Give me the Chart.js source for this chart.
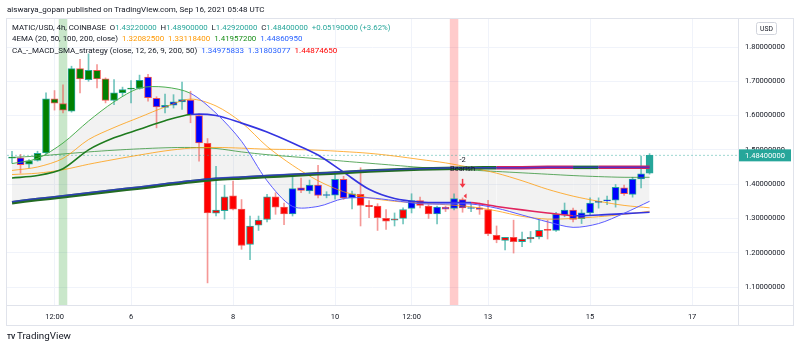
<!DOCTYPE html>
<html>
<head>
<meta charset="utf-8">
<script src="https://cdn.jsdelivr.net/npm/chart.js@4/dist/chart.umd.min.js"></script>
<style>
  html, body { margin: 0; padding: 0; background: #fff; }
  canvas { display: block; }
</style>
</head>
<body>
<canvas id="myChart" width="800" height="348"></canvas>
<script>
// 4h candles, index 0 = Sep 3 16:00 ... index 75 = Sep 16 04:00
var opens = [
  1.476, 1.477, 1.458, 1.469, 1.491, 1.649, 1.635, 1.613, 1.737, 1.705,
  1.732, 1.707, 1.644, 1.666, 1.677, 1.679, 1.712, 1.650, 1.624, 1.630,
  1.640, 1.645, 1.600, 1.519, 1.315, 1.323, 1.366, 1.327, 1.224, 1.280,
  1.297, 1.363, 1.333, 1.313, 1.389, 1.380, 1.397, 1.367, 1.368, 1.414,
  1.360, 1.370, 1.338, 1.336, 1.300, 1.295, 1.300, 1.329, 1.352, 1.336,
  1.313, 1.333, 1.329, 1.355, 1.329, 1.331, 1.326, 1.251, 1.236, 1.245,
  1.232, 1.240, 1.246, 1.266, 1.265, 1.310, 1.324, 1.299, 1.316, 1.347,
  1.351, 1.353, 1.389, 1.370, 1.415, 1.4322
];
var highs = [
  1.496, 1.487, 1.472, 1.496, 1.666, 1.673, 1.690, 1.744, 1.764, 1.780,
  1.749, 1.710, 1.705, 1.683, 1.702, 1.718, 1.720, 1.655, 1.663, 1.661,
  1.698, 1.671, 1.605, 1.533, 1.452, 1.397, 1.409, 1.355, 1.307, 1.307,
  1.370, 1.375, 1.345, 1.423, 1.418, 1.412, 1.455, 1.378, 1.436, 1.423,
  1.380, 1.448, 1.352, 1.343, 1.326, 1.316, 1.331, 1.372, 1.362, 1.340,
  1.336, 1.336, 1.372, 1.360, 1.345, 1.345, 1.353, 1.278, 1.245, 1.295,
  1.260, 1.262, 1.295, 1.295, 1.318, 1.345, 1.330, 1.325, 1.360, 1.360,
  1.365, 1.399, 1.397, 1.420, 1.482, 1.489
];
var lows = [
  1.461, 1.432, 1.447, 1.467, 1.487, 1.616, 1.608, 1.610, 1.666, 1.700,
  1.681, 1.637, 1.632, 1.657, 1.637, 1.677, 1.642, 1.564, 1.608, 1.622,
  1.618, 1.579, 1.467, 1.112, 1.307, 1.298, 1.325, 1.210, 1.180, 1.265,
  1.290, 1.312, 1.282, 1.307, 1.375, 1.373, 1.360, 1.360, 1.356, 1.355,
  1.328, 1.278, 1.302, 1.265, 1.268, 1.278, 1.284, 1.316, 1.331, 1.300,
  1.284, 1.320, 1.325, 1.318, 1.320, 1.312, 1.250, 1.229, 1.208, 1.199,
  1.218, 1.230, 1.240, 1.240, 1.262, 1.305, 1.290, 1.285, 1.310, 1.330,
  1.340, 1.333, 1.367, 1.362, 1.389, 1.4292
];
var closes = [
  1.478, 1.457, 1.468, 1.490, 1.649, 1.636, 1.616, 1.737, 1.707, 1.732,
  1.707, 1.644, 1.666, 1.676, 1.679, 1.703, 1.652, 1.625, 1.630, 1.640,
  1.647, 1.603, 1.520, 1.316, 1.324, 1.363, 1.327, 1.221, 1.278, 1.295,
  1.363, 1.333, 1.313, 1.387, 1.382, 1.397, 1.367, 1.369, 1.414, 1.360,
  1.372, 1.338, 1.334, 1.302, 1.292, 1.299, 1.326, 1.352, 1.338, 1.313,
  1.333, 1.327, 1.358, 1.331, 1.331, 1.326, 1.255, 1.237, 1.245, 1.232,
  1.240, 1.245, 1.265, 1.265, 1.312, 1.324, 1.297, 1.316, 1.345, 1.349,
  1.353, 1.391, 1.372, 1.415, 1.430, 1.484
];
// bar colour painted by the strategy (g green, b blue, r red, t default)
var barColors = [
  'g','b','g','g','g','g','g','g','g','g',
  'g','g','g','g','g','g','b','b','b','b',
  'b','b','b','r','r','r','r','r','r','r',
  'r','r','r','b','b','b','b','b','b','b',
  'b','r','r','r','r','r','r','b','r','r',
  'b','b','b','b','b','b','r','r','r','r',
  'r','r','r','r','b','b','b','b','b','b',
  'b','b','b','b','b','t'
];

// indicator lines, read every 3rd bar
var lineIdx = [0, 3, 6, 9, 12, 15, 18, 21, 24, 27, 30, 33, 36, 39, 42, 45, 48, 51, 54, 57, 60, 63, 66, 69, 72, 75];
var ema20  = [1.440, 1.450, 1.475, 1.530, 1.565, 1.595, 1.625, 1.648, 1.628, 1.580, 1.510, 1.455, 1.410, 1.378, 1.360, 1.350, 1.345, 1.340, 1.334, 1.322, 1.306, 1.298, 1.300, 1.305, 1.312, 1.321];
var ema50  = [1.428, 1.432, 1.442, 1.458, 1.472, 1.485, 1.497, 1.505, 1.507, 1.505, 1.502, 1.501, 1.499, 1.495, 1.490, 1.482, 1.472, 1.462, 1.448, 1.432, 1.410, 1.385, 1.365, 1.350, 1.338, 1.331];
var ema100 = [1.478, 1.482, 1.488, 1.494, 1.499, 1.503, 1.506, 1.507, 1.504, 1.494, 1.486, 1.480, 1.474, 1.467, 1.461, 1.455, 1.449, 1.445, 1.441, 1.437, 1.433, 1.429, 1.425, 1.422, 1.420, 1.420];
var ema200 = [1.349, 1.358, 1.366, 1.375, 1.384, 1.392, 1.401, 1.410, 1.417, 1.421, 1.425, 1.429, 1.432, 1.436, 1.440, 1.443, 1.445, 1.447, 1.448, 1.448, 1.448, 1.449, 1.449, 1.449, 1.449, 1.449];
var sma200 = [1.346, 1.355, 1.363, 1.372, 1.381, 1.389, 1.398, 1.407, 1.414, 1.418, 1.422, 1.426, 1.430, 1.434, 1.438, 1.441, 1.444, 1.446, 1.447, 1.448, 1.448, 1.449, 1.449, 1.449, 1.449, 1.449];
var fastMA = [1.460, 1.475, 1.520, 1.584, 1.640, 1.680, 1.683, 1.665, 1.607, 1.525, 1.410, 1.335, 1.335, 1.358, 1.360, 1.352, 1.343, 1.342, 1.342, 1.330, 1.310, 1.290, 1.274, 1.285, 1.315, 1.350];
var slowMA = [1.418, 1.425, 1.445, 1.500, 1.535, 1.560, 1.585, 1.603, 1.600, 1.578, 1.552, 1.520, 1.485, 1.435, 1.385, 1.358, 1.348, 1.346, 1.346, 1.335, 1.325, 1.316, 1.308, 1.310, 1.314, 1.318];
var sma200State = ['g','g','g','g','g','g','g','g','g','g','g','g','g','g','g','g','g','g','g','r','r','r','g','r','r','r'];
var fastState   = ['g','g','g','g','g','g','g','b','b','b','b','b','b','b','b','b','b','b','b','b','b','b','b','b','b','b'];
var slowState   = ['g','g','g','g','g','g','g','b','b','b','b','b','b','b','b','b','b','b','r','r','r','r','b','b','b','b'];

// axis ticks
var xTickIdx = [5, 14, 26, 38, 47, 56, 68, 80];
var xTickLabels = ['12:00', '6', '8', '10', '12:00', '13', '15', '17'];
var yTicks = [1.1, 1.2, 1.3, 1.4, 1.5, 1.6, 1.7, 1.8];

// background highlights and signal
var greenBars = [6];
var redBars = [52];
var signalBar = 53;
var signalText = ['-2', 'Bearish'];

// legend texts
var header = 'aiswarya_gopan published on TradingView.com, Sep 16, 2021 05:48 UTC';
var symbolText = 'MATIC/USD, 4h, COINBASE';
var changeText = '+0.05190000 (+3.62%)';
var emaTitle = '4EMA (20, 50, 100, 200, close)';
var emaValues = ['1.32082500', '1.33118400', '1.41957200', '1.44860950'];
var stratTitle = 'CA_-_MACD_SMA_strategy (close, 12, 26, 9, 200, 50)';
var stratValues = ['1.34975833', '1.31803077', '1.44874650'];

var FONT = 'Roboto, "Liberation Sans", sans-serif';
var DARK = '#131722';
var UP = '#26a69a', DOWN = '#ef5350';
var bodyFill = {g: '#008000', b: '#0000ff', r: '#ff0000', t: '#26a69a'};

var measure = document.createElement('canvas').getContext('2d');
function fitSize(text, width) {
  measure.font = '100px ' + FONT;
  return 100 * width / measure.measureText(text).width;
}
var tickSize = fitSize('1.80000000', 40);

function isUp(i) { return closes[i] >= opens[i]; }
function pts(vals) { return vals.map(function (v, k) { return {x: lineIdx[k], y: v}; }); }
function segColor(states, cols) {
  return function (c) { return cols[states[c.p0DataIndex]]; };
}
var lastClose = closes[closes.length - 1];

var tvDecor = {
  id: 'tvDecor',
  beforeDatasetsDraw: function (chart) {
    var c = chart.ctx, a = chart.chartArea, x = chart.scales.x;
    c.save();
    function band(i, col) {
      var l = x.getPixelForValue(i - 0.5), r = x.getPixelForValue(i + 0.5);
      c.fillStyle = col;
      c.fillRect(l, a.top, r - l, a.bottom - a.top);
    }
    greenBars.forEach(function (i) { band(i, 'rgba(76,175,80,0.30)'); });
    redBars.forEach(function (i) { band(i, 'rgba(255,82,82,0.30)'); });
    c.restore();
  },
  afterDraw: function (chart) {
    var c = chart.ctx, a = chart.chartArea, x = chart.scales.x, y = chart.scales.y;
    c.save();
    // pane frame
    c.strokeStyle = '#e0e3eb';
    c.lineWidth = 1;
    c.strokeRect(6.5, 18.5, 787, 307);
    c.beginPath();
    c.moveTo(a.right + 0.5, 18.5); c.lineTo(a.right + 0.5, 325.5);
    c.moveTo(6.5, a.bottom + 0.5); c.lineTo(793.5, a.bottom + 0.5);
    c.stroke();

    c.textBaseline = 'middle';
    // header
    c.font = fitSize(header, 258) + 'px ' + FONT;
    c.fillStyle = DARK;
    c.fillText(header, 7, 10);

    // legend rows
    function row(pieces, ypos, width) {
      var all = pieces.map(function (p) { return p[0]; }).join('');
      var size = fitSize(all, width);
      c.font = size + 'px ' + FONT;
      var px = 12;
      pieces.forEach(function (p) {
        c.fillStyle = p[1];
        c.fillText(p[0], px, ypos);
        px += c.measureText(p[0]).width;
      });
    }
    var f8 = function (v) { return v.toFixed(8); };
    var n = closes.length - 1;
    row([[symbolText + '  O', DARK], [f8(opens[n]), UP], ['  H', DARK], [f8(highs[n]), UP],
         ['  L', DARK], [f8(lows[n]), UP], ['  C', DARK], [f8(closes[n]), UP], ['  ' + changeText, UP]], 28, 379);
    var emaCols = ['#ff9800', '#ff9800', '#1b8f1b', '#2962ff'];
    var r2 = [[emaTitle, DARK]];
    emaValues.forEach(function (v, k) { r2.push(['  ', DARK]); r2.push([v, emaCols[k]]); });
    row(r2, 39.5, 291);
    var stCols = ['#2962ff', '#2962ff', '#ff0000'];
    var r3 = [[stratTitle, DARK]];
    stratValues.forEach(function (v, k) { r3.push(['  ', DARK]); r3.push([v, stCols[k]]); });
    row(r3, 51, 326);

    // signal marker
    var sx = x.getPixelForValue(signalBar);
    var hy = y.getPixelForValue(highs[signalBar]);
    c.font = fitSize('Bearish', 25) + 'px ' + FONT;
    c.fillStyle = DARK;
    c.textAlign = 'center';
    c.fillText(signalText[0], sx, hy - 38);
    c.fillText(signalText[1], sx, hy - 29);
    c.strokeStyle = '#f23645';
    c.fillStyle = '#f23645';
    c.lineWidth = 1.5;
    c.beginPath(); c.moveTo(sx, hy - 19); c.lineTo(sx, hy - 12); c.stroke();
    c.beginPath(); c.moveTo(sx - 3, hy - 14); c.lineTo(sx + 3, hy - 14); c.lineTo(sx, hy - 10); c.closePath(); c.fill();
    var by = y.getPixelForValue(opens[signalBar]);
    c.beginPath(); c.moveTo(sx + 4, by - 6); c.lineTo(sx + 4, by - 1); c.lineTo(sx + 1, by - 3.5); c.closePath(); c.fill();
    c.textAlign = 'left';

    // USD box
    c.strokeStyle = '#d1d4dc';
    c.lineWidth = 1;
    c.beginPath();
    if (c.roundRect) c.roundRect(756.5, 22.5, 20, 12, 2); else c.rect(756.5, 22.5, 20, 12);
    c.stroke();
    c.font = fitSize('USD', 13) + 'px ' + FONT;
    c.fillStyle = DARK;
    c.textAlign = 'center';
    c.fillText('USD', 766.5, 29);

    // last price label
    var ly = y.getPixelForValue(lastClose);
    c.fillStyle = '#26a69a';
    c.fillRect(a.right + 1, ly - 6, 52, 12);
    c.fillStyle = '#ffffff';
    c.textAlign = 'left';
    c.font = tickSize + 'px ' + FONT;
    c.fillText(lastClose.toFixed(8), a.right + 7, ly + 0.5);

    // watermark
    c.fillStyle = DARK;
    c.font = 'bold ' + fitSize('TV', 8) + 'px ' + FONT;
    c.fillText('TV', 7, 337);
    c.font = fitSize('TradingView', 54) + 'px ' + FONT;
    c.fillText('TradingView', 17, 337);
    c.restore();
  }
};

var ctx = document.getElementById('myChart').getContext('2d');
var chart = new Chart(ctx, {
  data: {
    datasets: [
      { type: 'line', data: pts(ema200), borderColor: 'rgba(50,50,230,0.75)', borderWidth: 1.5, pointRadius: 0, tension: 0.3 },
      { type: 'line', data: pts(sma200), borderWidth: 3.5, pointRadius: 0, tension: 0.3,
        borderColor: '#236b23', segment: { borderColor: segColor(sma200State, {g: '#236b23', r: '#d1245a'}) } },
      { type: 'line', data: pts(fastMA), borderWidth: 1, pointRadius: 0, tension: 0.3,
        borderColor: '#4caf50', segment: { borderColor: segColor(fastState, {g: '#4caf50', b: '#5b5bff'}) },
        fill: { target: 1, above: 'rgba(150,150,150,0.12)', below: 'rgba(150,150,150,0.12)' } },
      { type: 'line', data: pts(slowMA), borderWidth: 1.6, pointRadius: 0, tension: 0.3,
        borderColor: '#1e7b1e', segment: { borderColor: segColor(slowState, {g: '#1e7b1e', b: '#3434e0', r: '#e0245e'}) } },
      { type: 'line', data: pts(ema20), borderColor: 'rgba(255,152,0,0.75)', borderWidth: 1, pointRadius: 0, tension: 0.3 },
      { type: 'line', data: pts(ema50), borderColor: 'rgba(255,152,0,0.75)', borderWidth: 1, pointRadius: 0, tension: 0.3 },
      { type: 'line', data: pts(ema100), borderColor: 'rgba(56,150,60,0.8)', borderWidth: 1, pointRadius: 0, tension: 0.3 },
      { type: 'line', data: [{x: -0.59, y: lastClose}, {x: 85.4, y: lastClose}], borderColor: 'rgba(38,166,154,0.45)',
        borderWidth: 1, borderDash: [2, 2], pointRadius: 0 },
      { type: 'bar', data: opens.map(function (o, i) { return {x: i, y: [o, closes[i]]}; }),
        backgroundColor: barColors.map(function (k) { return bodyFill[k]; }),
        borderColor: opens.map(function (o, i) { return isUp(i) ? UP : DOWN; }),
        borderWidth: 1, borderSkipped: false, barThickness: 7, minBarLength: 1, grouped: false },
      { type: 'bar', data: lows.map(function (l, i) { return {x: i, y: [l, highs[i]]}; }),
        backgroundColor: opens.map(function (o, i) { return isUp(i) ? 'rgba(38,166,154,0.65)' : 'rgba(239,83,80,0.6)'; }),
        borderWidth: 0, barThickness: 1, grouped: false }
    ]
  },
  options: {
    responsive: false,
    animation: false,
    layout: { padding: { left: 7, right: 7, top: 19, bottom: 0 } },
    plugins: { legend: { display: false }, tooltip: { enabled: false }, filler: { drawTime: 'beforeDatasetsDraw' } },
    scales: {
      x: {
        type: 'linear', min: -0.59, max: 85.4, offset: false,
        afterBuildTicks: function (s) { s.ticks = xTickIdx.map(function (v) { return {value: v}; }); },
        afterFit: function (s) { s.height = 43; },
        grid: { color: '#f0f3fa', drawTicks: false, offset: false },
        border: { display: false },
        ticks: { autoSkip: false, maxRotation: 0, padding: 8, color: DARK,
          font: { family: FONT, size: tickSize },
          callback: function (v, i) { return xTickLabels[i]; } }
      },
      y: {
        position: 'right', min: 1.0475, max: 1.8817,
        afterBuildTicks: function (s) { s.ticks = yTicks.map(function (v) { return {value: v}; }); },
        afterFit: function (s) { s.width = 55; },
        grid: { color: '#f0f3fa', drawTicks: false },
        border: { display: false },
        ticks: { padding: 7, color: DARK, font: { family: FONT, size: tickSize },
          callback: function (v) { return v.toFixed(8); } }
      }
    }
  },
  plugins: [tvDecor]
});
</script>
</body>
</html>
